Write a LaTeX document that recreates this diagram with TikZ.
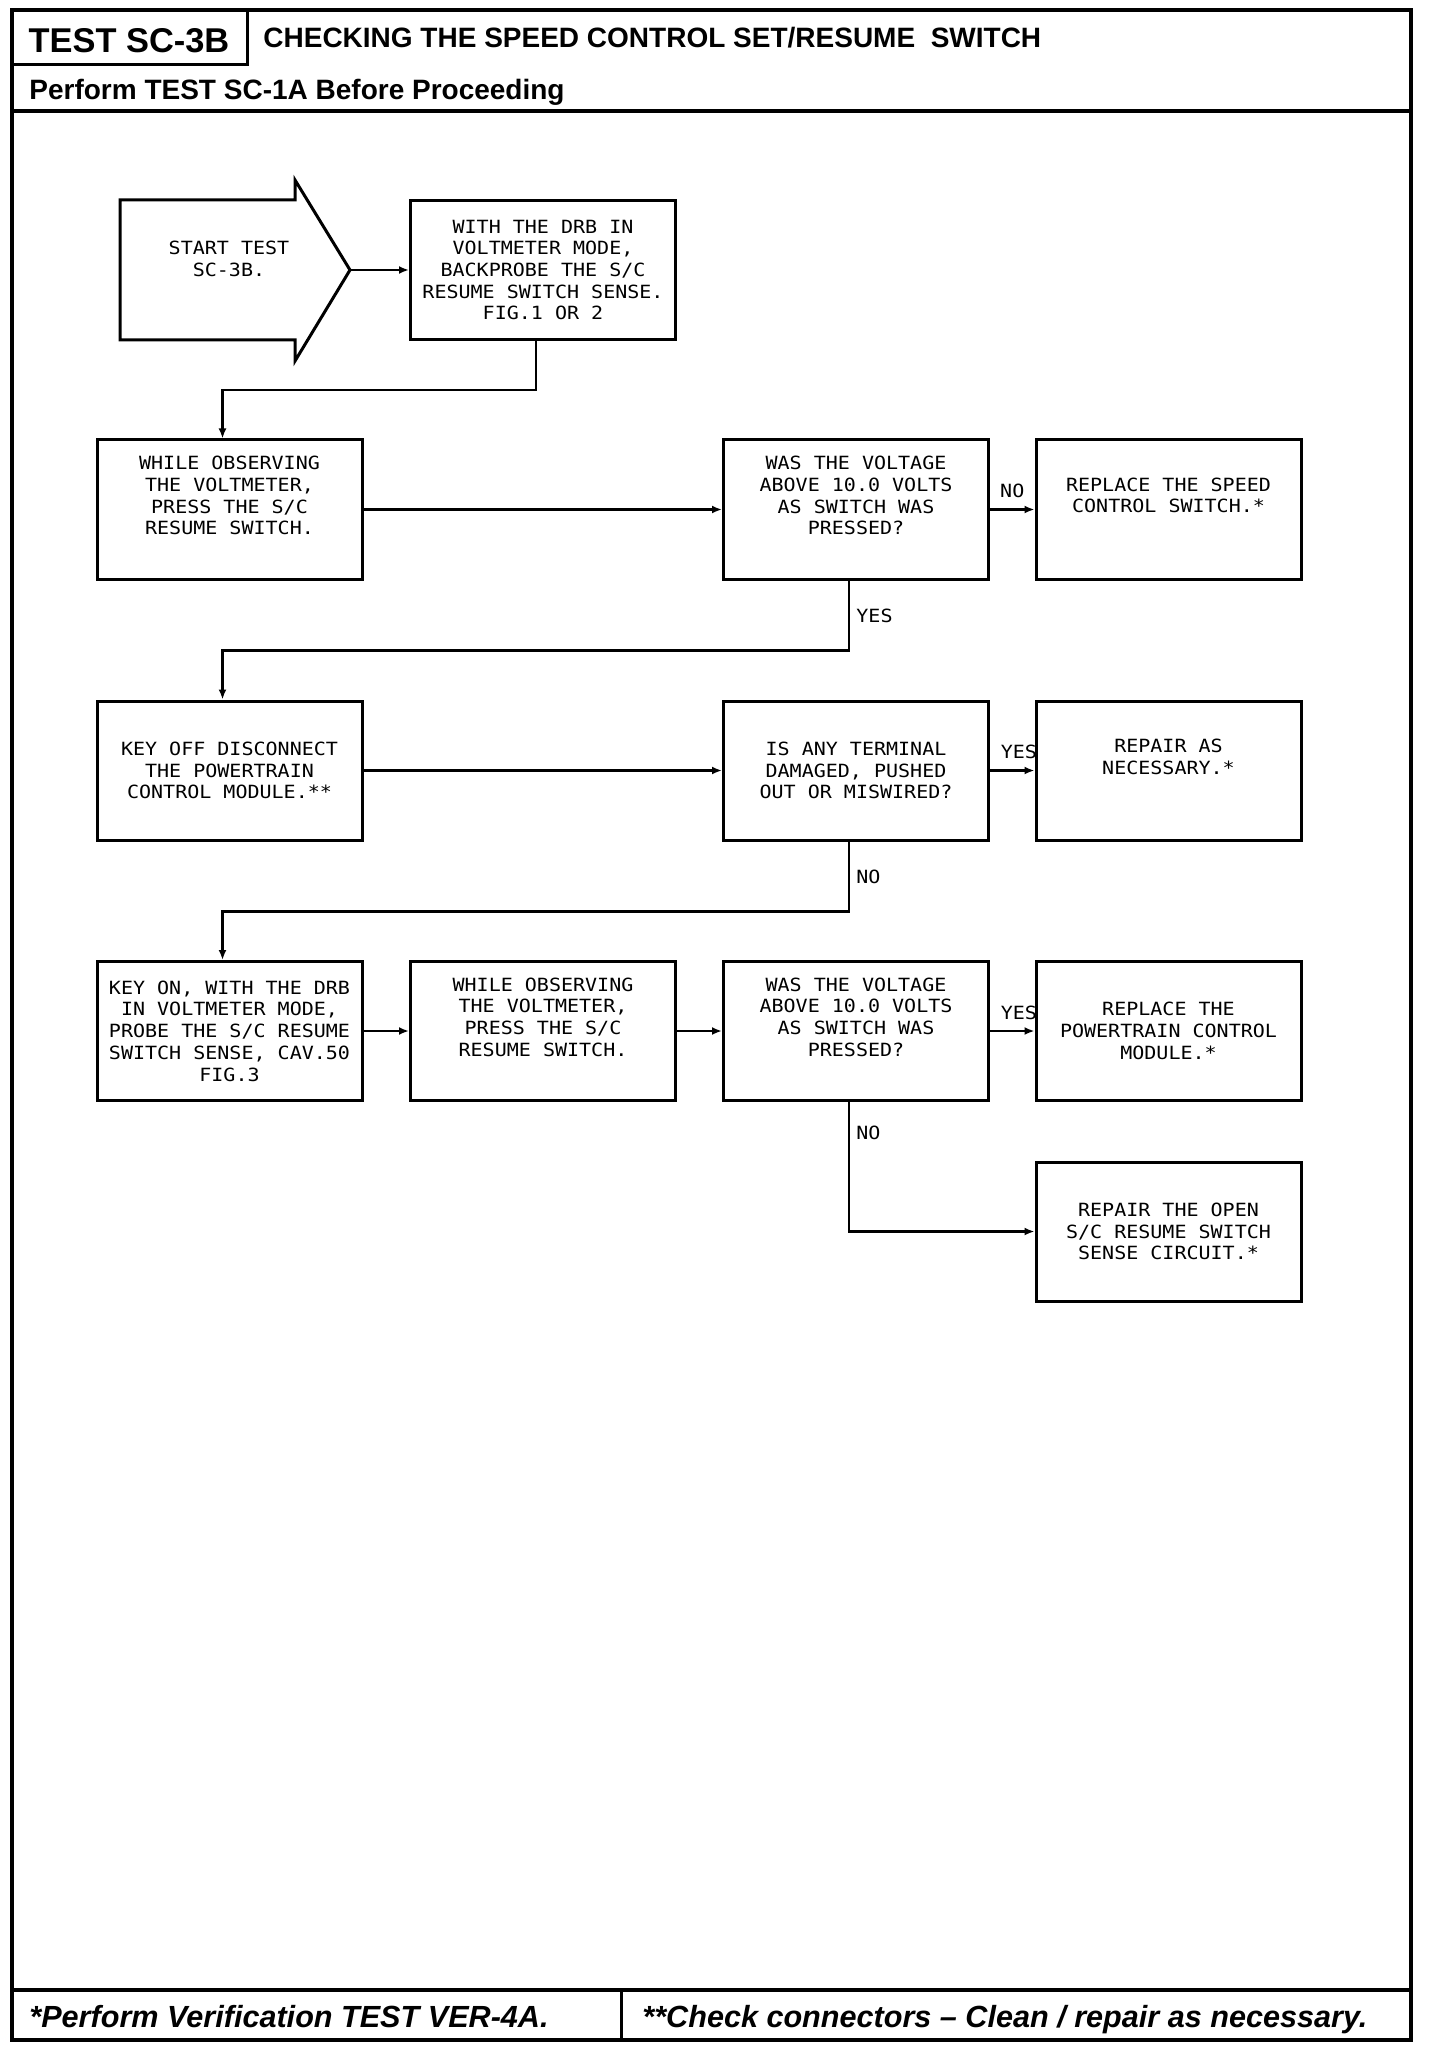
\documentclass[tikz,border=0pt]{standalone}
\usepackage{fontspec}
\setmainfont{Liberation Sans}
\newfontfamily\plotfont{DejaVu Sans Mono}[FakeStretch=1.1]
\usetikzlibrary{arrows.meta,positioning}
\newcommand{\boxfont}{\plotfont\fontsize{9.1}{10.85}\selectfont}

\tikzset{
  stepbox/.style={draw,line width=1.5pt,minimum width=132.5pt,minimum height=69.5pt,
    inner sep=0pt,align=center,font=\boxfont},
  flow/.style={line width=1.4pt,-{Latex[length=5pt,width=4pt]}},
  answer/.style={font=\boxfont,inner sep=3pt},
}

\begin{document}
\begin{tikzpicture}[x=0.5pt,y=-0.5pt]
  \useasboundingbox (0,0) rectangle (1440,2048);
  % page frame
  \draw[line width=2pt] (12,10) rectangle (1411,2040);
  \draw[line width=1.5pt] (12,65) -- (247,65) -- (247,10);
  \draw[line width=2pt] (12,111) -- (1411,111);
  \draw[line width=2pt] (12,1990) -- (1411,1990);
  \draw[line width=1.5pt] (621,1990) -- (621,2040);
  \node[anchor=base,inner sep=0pt,font=\bfseries\fontsize{17.2}{20}\selectfont] (testno) at (129,53) {TEST SC-3B};
  \node[anchor=base west,inner sep=0pt,font=\bfseries\fontsize{14}{17}\selectfont] (title) at (263,48) {CHECKING THE SPEED CONTROL SET/RESUME\ \ SWITCH};
  \node[anchor=base west,inner sep=0pt,font=\bfseries\fontsize{14}{17}\selectfont] (prereq) at (29,100) {Perform TEST SC-1A Before Proceeding};
  \node[anchor=base west,inner sep=0pt,font=\bfseries\itshape\fontsize{15.3}{18}\selectfont] (verify) at (29,2027) {*Perform Verification TEST VER-4A.};
  \node[anchor=base west,inner sep=0pt,font=\bfseries\itshape\fontsize{15.3}{18}\selectfont] (connectors) at (642,2027) {**Check connectors – Clean / repair as necessary.};

  % start arrow
  \draw[line width=1.5pt] (120,200) -- (295,200) -- (295,180) -- (350,270) -- (295,361) -- (295,340) -- (120,340) -- cycle;
  \coordinate (starttip) at (350,270);
  \node[font=\boxfont,align=center] (start) at (229,259) {START TEST\\SC-3B.};

  % steps
  \node[stepbox] (backprobe) at (543,270) {WITH THE DRB IN\\VOLTMETER MODE,\\BACKPROBE THE S/C\\RESUME SWITCH SENSE.\\FIG.1 OR 2};
  \node[stepbox] (press1) at (229.5,509.5) {WHILE OBSERVING\\THE VOLTMETER,\\PRESS THE S/C\\RESUME SWITCH.\\\strut};
  \node[stepbox] (volt1) at (856,509.5) {WAS THE VOLTAGE\\ABOVE 10.0 VOLTS\\AS SWITCH WAS\\PRESSED?\\\strut};
  \node[stepbox] (speedsw) at (1168.5,509.5) {REPLACE THE SPEED\\CONTROL SWITCH.*\\\strut};
  \node[stepbox] (keyoff) at (229.5,770.5) {KEY OFF DISCONNECT\\THE POWERTRAIN\\CONTROL MODULE.**};
  \node[stepbox] (terminal) at (856,770.5) {IS ANY TERMINAL\\DAMAGED, PUSHED\\OUT OR MISWIRED?};
  \node[stepbox] (repair) at (1168.5,770.5) {REPAIR AS\\NECESSARY.*\\\strut};
  \node[stepbox] (keyon) at (229.5,1031) {KEY ON, WITH THE DRB\\IN VOLTMETER MODE,\\PROBE THE S/C RESUME\\SWITCH SENSE, CAV.50\\FIG.3};
  \node[stepbox] (press2) at (543,1031) {WHILE OBSERVING\\THE VOLTMETER,\\PRESS THE S/C\\RESUME SWITCH.\\\strut};
  \node[stepbox] (volt2) at (856,1031) {WAS THE VOLTAGE\\ABOVE 10.0 VOLTS\\AS SWITCH WAS\\PRESSED?\\\strut};
  \node[stepbox] (pcm) at (1168.5,1031) {REPLACE THE\\POWERTRAIN CONTROL\\MODULE.*};
  \node[stepbox] (opencirc) at (1168.5,1231.5) {REPAIR THE OPEN\\S/C RESUME SWITCH\\SENSE CIRCUIT.*};

  % connectors
  \draw[flow] (starttip) -- (backprobe);
  \draw[flow] ([xshift=-3.5pt]backprobe.south) -- ++(0,49) -| ([xshift=-3.5pt]press1.north);
  \draw[flow] (press1) -- (volt1);
  \draw[flow] (volt1) -- node[answer,above=2pt]{NO} (speedsw);
  \draw[flow] ([xshift=-3.5pt]volt1.south) -- node[answer,right]{YES} ++(0,70) -| ([xshift=-3.5pt]keyoff.north);
  \draw[flow] (keyoff) -- (terminal);
  \draw[flow] (terminal) -- node[answer,above=2pt,pos=0.65]{YES} (repair);
  \draw[flow] ([xshift=-3.5pt]terminal.south) -- node[answer,right]{NO} ++(0,70) -| ([xshift=-3.5pt]keyon.north);
  \draw[flow] (keyon) -- (press2);
  \draw[flow] (press2) -- (volt2);
  \draw[flow] (volt2) -- node[answer,above=2pt,pos=0.65]{YES} (pcm);
  \draw[flow] ([xshift=-3.5pt]volt2.south) |- node[answer,right,pos=0.12]{NO} (opencirc.west);
\end{tikzpicture}
\end{document}
